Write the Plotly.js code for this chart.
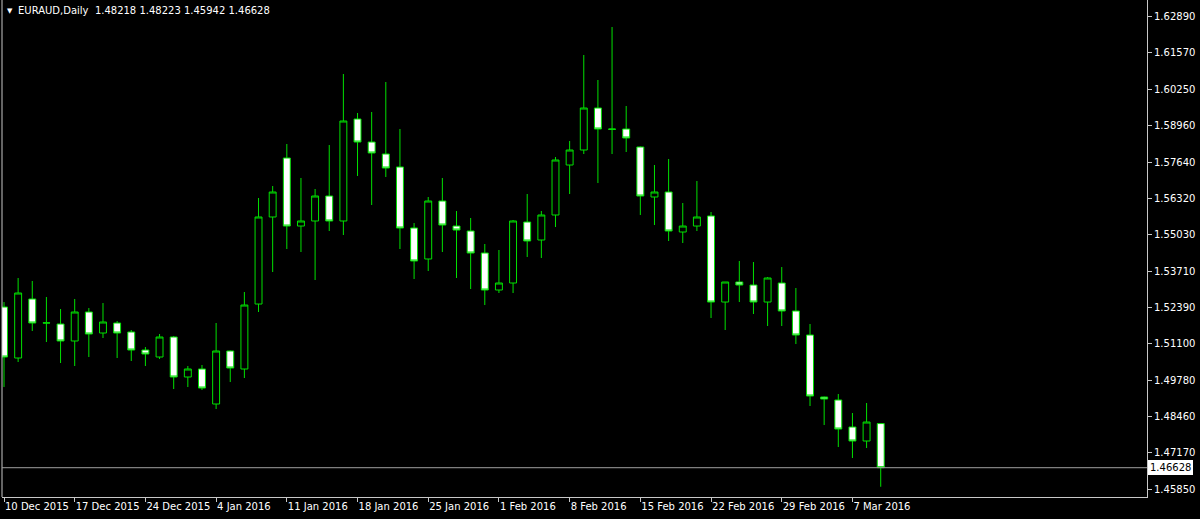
<!DOCTYPE html>
<html>
<head>
<meta charset="utf-8">
<script src="https://cdn.plot.ly/plotly-3.0.1.min.js"></script>
<style>
html,body{margin:0;padding:0;background:#000;}
#chart{width:1200px;height:519px;}
</style>
</head>
<body>
<div id="chart"></div>
<script>
const symbolName = 'EURAUD,Daily';
const dates = ['2015-12-10','2015-12-11','2015-12-14','2015-12-15','2015-12-16','2015-12-17','2015-12-18','2015-12-21','2015-12-22','2015-12-23','2015-12-24','2015-12-28','2015-12-29','2015-12-30','2015-12-31',
'2016-01-04','2016-01-05','2016-01-06','2016-01-07','2016-01-08','2016-01-11','2016-01-12','2016-01-13','2016-01-14','2016-01-15','2016-01-18','2016-01-19','2016-01-20','2016-01-21','2016-01-22','2016-01-25','2016-01-26','2016-01-27','2016-01-28','2016-01-29',
'2016-02-01','2016-02-02','2016-02-03','2016-02-04','2016-02-05','2016-02-08','2016-02-09','2016-02-10','2016-02-11','2016-02-12','2016-02-15','2016-02-16','2016-02-17','2016-02-18','2016-02-19','2016-02-22','2016-02-23','2016-02-24','2016-02-25','2016-02-26','2016-02-29',
'2016-03-01','2016-03-02','2016-03-03','2016-03-04','2016-03-07','2016-03-08','2016-03-09'];

const open = [1.52417,1.50580,1.52706,1.51841,1.51805,1.51193,1.52237,1.51481,1.51841,1.51517,1.50868,1.50616,1.51337,1.49896,1.50184,
1.48923,1.50832,1.50184,1.52525,1.55660,1.57785,1.55335,1.55516,1.56416,1.55516,1.59190,1.58361,1.57929,1.57461,1.55263,1.54147,1.56236,1.55335,1.55155,1.54363,
1.53030,1.53282,1.55479,1.54831,1.55732,1.57533,1.58073,1.59586,1.58830,1.58830,1.58181,1.56380,1.56560,1.55119,1.55335,1.55696,1.52597,1.53318,1.53210,1.52597,1.53282,
1.52273,1.51409,1.49175,1.49067,1.48094,1.47590,1.48218];

const high = [1.52597,1.53462,1.53354,1.52778,1.52345,1.52706,1.52381,1.52561,1.51913,1.51589,1.50976,1.51445,1.51373,1.50292,1.50328,
1.51841,1.50850,1.52958,1.56344,1.56776,1.58289,1.57065,1.56668,1.58253,1.60811,1.59406,1.59442,1.60523,1.58830,1.55443,1.56380,1.57065,1.55876,1.55624,1.54687,
1.54471,1.55552,1.56488,1.55876,1.57821,1.58398,1.61496,1.60595,1.62504,1.59658,1.58200,1.57533,1.57749,1.56164,1.56957,1.55840,1.53318,1.54075,1.54038,1.53498,1.53858,
1.53102,1.51805,1.49190,1.49283,1.48599,1.48959,1.48223];

const low = [1.49535,1.50436,1.51553,1.51156,1.50400,1.50292,1.50616,1.51301,1.50580,1.50472,1.50292,1.50544,1.49463,1.49535,1.49427,
1.48743,1.49715,1.49860,1.52237,1.53678,1.54507,1.54399,1.53390,1.55155,1.55011,1.57137,1.56092,1.57101,1.54507,1.53426,1.53714,1.54399,1.53462,1.53066,1.52489,
1.52922,1.52922,1.54219,1.54183,1.55299,1.56488,1.57929,1.56884,1.57929,1.58001,1.55732,1.55371,1.54795,1.54723,1.55155,1.52021,1.51589,1.52597,1.52165,1.51733,1.51733,
1.51084,1.48851,1.48166,1.47374,1.46978,1.47338,1.45942];

const close = [1.50616,1.52922,1.51841,1.51845,1.51193,1.52237,1.51445,1.51877,1.51481,1.50868,1.50724,1.51337,1.49896,1.50184,1.49499,
1.50832,1.50220,1.52489,1.55660,1.56560,1.55335,1.55516,1.56416,1.55516,1.59118,1.58361,1.57965,1.57425,1.55263,1.54075,1.56236,1.55371,1.55191,1.54363,1.53030,
1.53282,1.55516,1.54795,1.55732,1.57713,1.58073,1.59586,1.58830,1.58820,1.58506,1.56416,1.56560,1.55155,1.55335,1.55660,1.52597,1.53318,1.53210,1.52597,1.53462,1.52273,
1.51409,1.49211,1.49103,1.48022,1.47590,1.48274,1.46628];

const tickDates = ['2015-12-10','2015-12-17','2015-12-24','2016-01-04','2016-01-11','2016-01-18','2016-01-25','2016-02-01','2016-02-08','2016-02-15','2016-02-22','2016-02-29','2016-03-07'];
const tickLabels = ['10 Dec 2015','17 Dec 2015','24 Dec 2015','4 Jan 2016','11 Jan 2016','18 Jan 2016','25 Jan 2016','1 Feb 2016','8 Feb 2016','15 Feb 2016','22 Feb 2016','29 Feb 2016','7 Mar 2016'];
const priceTicks = [1.62890,1.61570,1.60250,1.58960,1.57640,1.56320,1.55030,1.53710,1.52390,1.51100,1.49780,1.48460,1.47170,1.45850];

const GREEN = '#00e000';
const FRAME = '#c8c8c8';
const FONT = 'DejaVu Sans';
const n = close.length;
const lastO = open[n-1], lastH = high[n-1], lastL = low[n-1], lastC = close[n-1];

const trace = {
  type: 'candlestick',
  x: dates, open: open, high: high, low: low, close: close,
  increasing: {line: {color: GREEN, width: 1}, fillcolor: '#000000'},
  decreasing: {line: {color: GREEN, width: 1}, fillcolor: '#ffffff'},
  whiskerwidth: 0,
  hoverinfo: 'skip',
  showlegend: false
};

const layout = {
  width: 1200, height: 519,
  margin: {l: 2, r: 53, t: 0, b: 22, pad: 0},
  paper_bgcolor: '#000000', plot_bgcolor: '#000000',
  font: {family: FONT, size: 10, color: '#ffffff'},
  showlegend: false,
  xaxis: {
    type: 'category',
    range: [-0.1414, 80.83],
    rangeslider: {visible: false},
    showgrid: false, zeroline: false,
    showline: true, linecolor: FRAME, linewidth: 1,
    ticks: 'outside', ticklen: 4, tickcolor: FRAME, tickwidth: 1,
    tickmode: 'array', tickvals: tickDates, ticktext: tickLabels,
    tickangle: 0,
    ticklabelposition: 'outside right',
    tickfont: {family: FONT, size: 10, color: '#ffffff'},
    fixedrange: true
  },
  yaxis: {
    side: 'right',
    range: [1.45573, 1.63477],
    showgrid: false, zeroline: false,
    showline: true, linecolor: FRAME, linewidth: 1,
    ticks: 'outside', ticklen: 4, tickcolor: FRAME, tickwidth: 1,
    tickmode: 'array', tickvals: priceTicks, ticktext: priceTicks.map(v => v.toFixed(5)),
    tickfont: {family: FONT, size: 10, color: '#ffffff'},
    fixedrange: true
  },
  shapes: [
    {type: 'line', xref: 'paper', yref: 'paper', x0: 0, x1: 0, y0: 0, y1: 1, line: {color: FRAME, width: 1}},
    {type: 'line', xref: 'paper', yref: 'y', x0: 0, x1: 1, y0: lastC, y1: lastC, line: {color: '#a0a0a0', width: 1}}
  ],
  annotations: [
    {xref: 'paper', yref: 'paper', x: 0, y: 1, xanchor: 'left', yanchor: 'top', xshift: 3, yshift: -5,
     text: '▼', showarrow: false, font: {family: FONT, size: 7, color: '#ffffff'}},
    {xref: 'paper', yref: 'paper', x: 0, y: 1, xanchor: 'left', yanchor: 'top', xshift: 14, yshift: -3,
     text: symbolName + '&nbsp;&nbsp;' + [lastO, lastH, lastL, lastC].map(v => v.toFixed(5)).join(' '),
     showarrow: false, font: {family: FONT, size: 10, color: '#ffffff'}},
    {xref: 'paper', yref: 'y', x: 1, y: lastC, xanchor: 'left', yanchor: 'middle', xshift: 1,
     text: lastC.toFixed(5), showarrow: false, bgcolor: '#ffffff', bordercolor: '#ffffff', borderpad: 1,
     font: {family: FONT, size: 10, color: '#000000'}}
  ]
};

Plotly.newPlot('chart', [trace], layout, {staticPlot: true, displayModeBar: false});
</script>
</body>
</html>
